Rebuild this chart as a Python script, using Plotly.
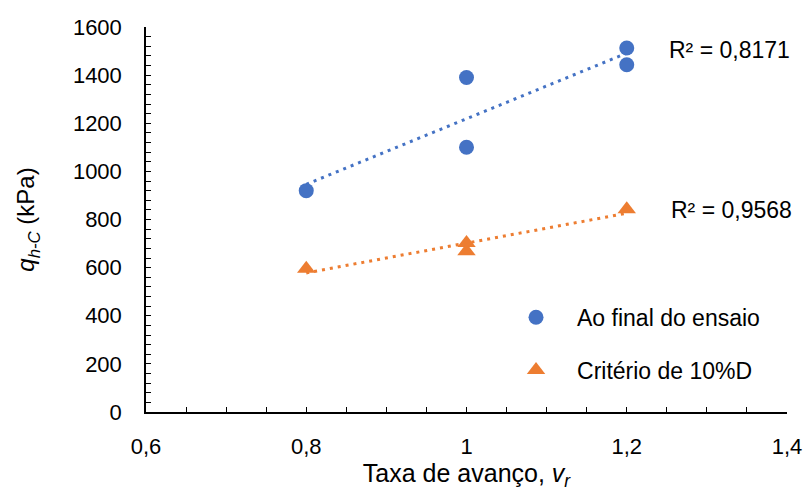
import numpy as np
import plotly.graph_objects as go

# Advance rate (v_r) and bearing pressure q_h-C (kPa)
x_final = [0.8, 1.0, 1.0, 1.2, 1.2]
q_final = [920, 1390, 1100, 1513, 1443]

x_crit = [0.8, 1.0, 1.0, 1.2]
q_crit = [595, 702, 668, 843]

r2_final = "R² = 0,8171"
r2_crit = "R² = 0,9568"

name_final = "Ao final do ensaio"
name_crit = "Critério de 10%D"

BLUE = "#4472C4"
ORANGE = "#ED7D31"
FONT = "Liberation Sans, Arial, sans-serif"


def linear_fit(xs, ys):
    coef = np.polyfit(xs, ys, 1)
    xf = np.array([min(xs), max(xs)])
    return xf, np.polyval(coef, xf)


fig = go.Figure()

for xs, ys, color in [(x_final, q_final, BLUE), (x_crit, q_crit, ORANGE)]:
    xf, yf = linear_fit(xs, ys)
    fig.add_trace(go.Scatter(
        x=xf, y=yf, mode="lines", showlegend=False, hoverinfo="skip",
        line=dict(color=color, width=3, dash="3px,5px"),
    ))

fig.add_trace(go.Scatter(
    x=x_final, y=q_final, mode="markers", name=name_final, legendgroup="a",
    marker=dict(symbol="circle", size=15, color=BLUE),
))
fig.add_trace(go.Scatter(
    x=x_crit, y=q_crit, mode="markers", name=name_crit, legendgroup="b",
    marker=dict(symbol="triangle-up", size=16, color=ORANGE),
))

fig.add_annotation(x=1.2, y=q_final[3], xref="x", yref="y", text=r2_final,
                   showarrow=False, xanchor="left", xshift=40, yshift=-2,
                   font=dict(size=23, color="black", family=FONT))
fig.add_annotation(x=1.2, y=q_crit[3], xref="x", yref="y", text=r2_crit,
                   showarrow=False, xanchor="left", xshift=42, yshift=-1,
                   font=dict(size=23, color="black", family=FONT))

axis_common = dict(
    showline=True, linecolor="black", linewidth=1.5, mirror=False,
    showgrid=False, zeroline=False, ticks="inside", ticklen=5, tickwidth=1.3,
    tickcolor="black", tickfont=dict(size=22, color="black", family=FONT),
    automargin=False,
)

fig.update_xaxes(
    range=[0.6, 1.4], dtick=0.2, tick0=0.6,
    minor=dict(dtick=0.05, ticks="inside", ticklen=5, tickwidth=1.3, tickcolor="black"),
    ticklabelstandoff=14,
    title=dict(text="Taxa de avanço, <i>v<sub>r</sub></i>",
               font=dict(size=25, color="black", family=FONT), standoff=4),
    **axis_common,
)
fig.update_yaxes(
    range=[0, 1600], dtick=200, tick0=0,
    minor=dict(dtick=40, ticks="inside", ticklen=5, tickwidth=1.3, tickcolor="black"),
    ticklabelstandoff=18,
    title=dict(text="<i>q<sub>h-C</sub></i> (kPa)",
               font=dict(size=24, color="black", family=FONT), standoff=31),
    **axis_common,
)

fig.update_layout(
    width=803, height=495,
    margin=dict(l=146, r=16, t=27, b=83),
    paper_bgcolor="white", plot_bgcolor="white",
    separators=",.",
    font=dict(family=FONT, color="black"),
    legend=dict(
        x=0.5445, y=0.302, xanchor="left", yanchor="top",
        traceorder="grouped", tracegroupgap=20,
        font=dict(size=23, color="black", family=FONT),
        bgcolor="rgba(0,0,0,0)", itemwidth=72,
    ),
)

fig.write_html("out.html")
